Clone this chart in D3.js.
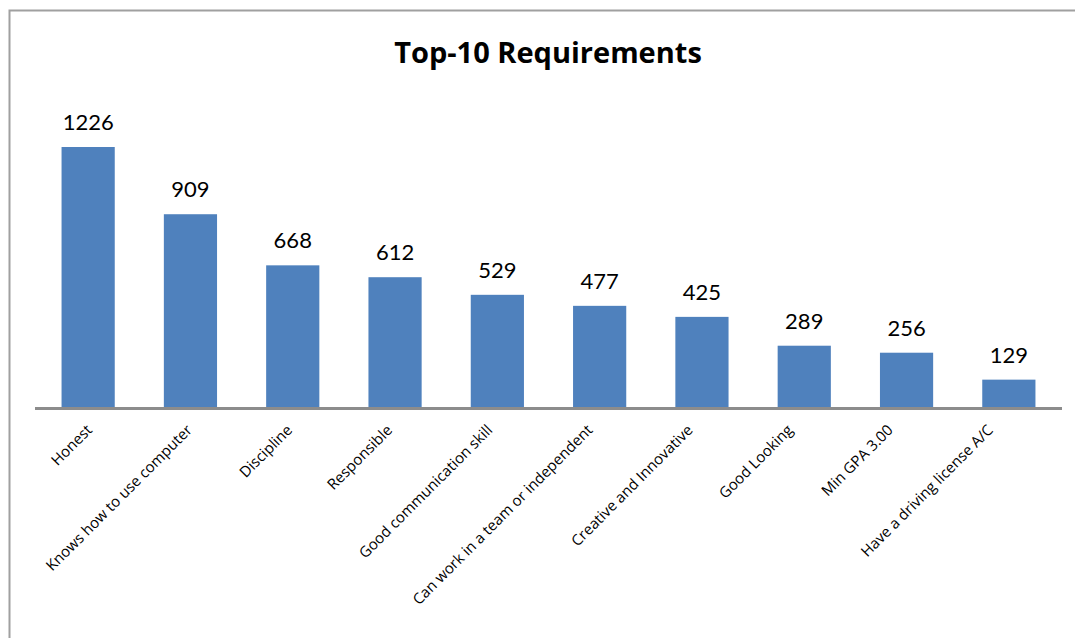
<!DOCTYPE html>
<html>
<head>
<meta charset="utf-8">
<script src="https://cdn.jsdelivr.net/npm/d3@7"></script>
<style>
  body { margin: 0; background: white; }
  svg { display: block; }
</style>
</head>
<body>
<script>
//Data
var categories = [
    "Honest",
    "Knows how to use computer",
    "Discipline",
    "Responsible",
    "Good communication skill",
    "Can work in a team or independent",
    "Creative and Innovative",
    "Good Looking",
    "Min GPA 3.00",
    "Have a driving license A/C"
];
var values = [1226, 909, 668, 612, 529, 477, 425, 289, 256, 129];
var title = "Top-10 Requirements";

//Parameters
var w = 1075;
var h = 638;
var barColor = "#4F81BD";
var axisColor = "#8c8c8c";
var borderColor = "#a0a0a0";
var valueFont = "Lato, 'Open Sans', sans-serif";
var labelFont = "'Open Sans', Lato, sans-serif";

var svg = d3.select("body").append("svg")
    .attr("width", w)
    .attr("height", h);

//Chart border (runs off the right and bottom of the picture)
svg.append("rect")
    .attr("x", 9.5)
    .attr("y", 10.5)
    .attr("width", w + 20)
    .attr("height", h + 20)
    .attr("fill", "white")
    .attr("stroke", borderColor)
    .attr("stroke-width", 2);

//Scales
var x = d3.scaleBand()
    .domain(categories)
    .range([37, 1060])
    .paddingInner(0.48)
    .paddingOuter(0.24);

//label anchors drift a little left of the bar centres in the original
var xLabel = d3.scalePoint()
    .domain(categories)
    .range([93, 994]);

var y = d3.scaleLinear()
    .domain([0, 1226])
    .range([407, 147]);

//Title
svg.append("text")
    .attr("x", 548)
    .attr("y", 63)
    .attr("text-anchor", "middle")
    .style("font-family", labelFont)
    .style("font-weight", "bold")
    .style("font-size", "29px")
    .text(title);

//Bars
svg.selectAll(".bar")
    .data(values)
    .enter().append("rect")
    .attr("class", "bar")
    .attr("x", function (d, i) { return x(categories[i]); })
    .attr("y", function (d) { return y(d); })
    .attr("width", x.bandwidth())
    .attr("height", function (d) { return y(0) - y(d); })
    .attr("fill", barColor);

//Value labels
svg.selectAll(".val")
    .data(values)
    .enter().append("text")
    .attr("class", "val")
    .attr("x", function (d, i) { return x(categories[i]) + x.bandwidth() / 2; })
    .attr("y", function (d) { return y(d) - 17; })
    .attr("text-anchor", "middle")
    .style("font-family", valueFont)
    .style("font-size", "22px")
    .text(function (d) { return d; });

//X axis line
svg.append("line")
    .attr("x1", 35)
    .attr("x2", 1062)
    .attr("y1", y(0) + 1.5)
    .attr("y2", y(0) + 1.5)
    .attr("stroke", axisColor)
    .attr("stroke-width", 3);

//Category labels, rotated
svg.selectAll(".cat")
    .data(categories)
    .enter().append("text")
    .attr("class", "cat")
    .attr("transform", function (d) {
        return "translate(" + xLabel(d) + "," + 431 + ") rotate(-45)";
    })
    .attr("text-anchor", "end")
    .style("font-family", labelFont)
    .style("font-size", "15px")
    .text(function (d) { return d; });
</script>
</body>
</html>
